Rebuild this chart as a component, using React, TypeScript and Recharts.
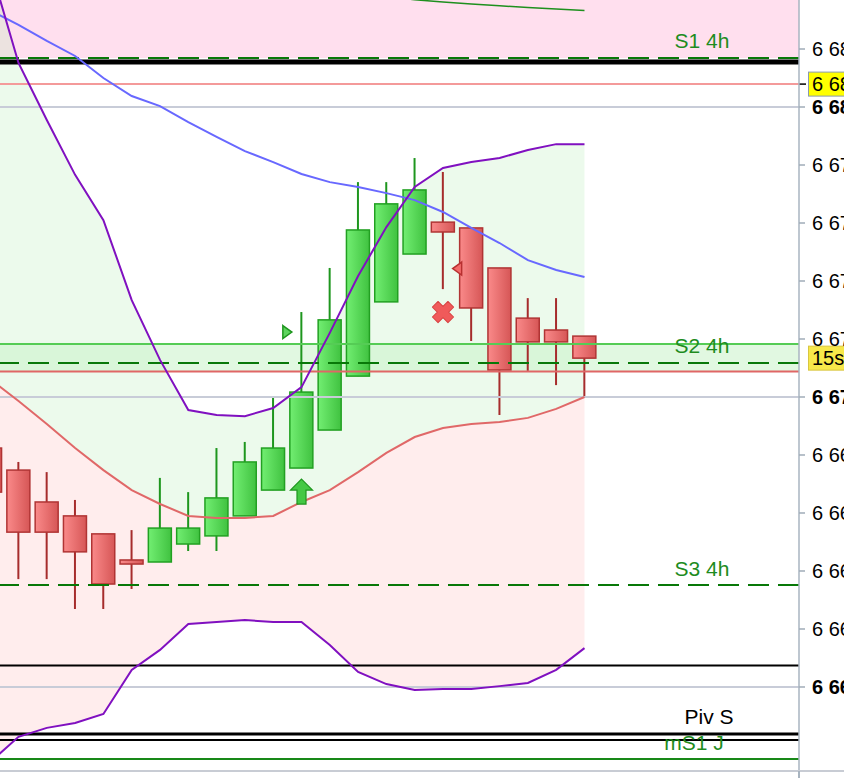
import React from 'react';
import {
  ComposedChart,
  Bar,
  Line,
  Area,
  XAxis,
  YAxis,
  ReferenceLine,
  ReferenceArea,
  ReferenceDot,
} from 'recharts';

// candle index (-1 = partly hidden candle at the left edge)
const candleIdx = [-1, 0, 1, 2, 3, 4, 5, 6, 7, 8, 9, 10, 11, 12, 13, 14, 15, 16, 17, 18, 19, 20];
const opens = [6668.24, 6667.48, 6666.38, 6665.9, 6665.28, 6664.38, 6664.31, 6664.93, 6665.21, 6665.9, 6666.79, 6667.55, 6668.86, 6670.72, 6673.28, 6674.93, 6676.03, 6675.83, 6674.45, 6672.72, 6672.31, 6672.1];
const highs = [6668.6, 6667.76, 6667.41, 6666.45, 6665.28, 6665.41, 6667.21, 6666.72, 6668.24, 6668.45, 6669.97, 6672.93, 6674.45, 6677.41, 6677.41, 6678.24, 6677.76, 6675.83, 6674.45, 6673.41, 6673.41, 6672.1];
const lows = [6665.9, 6663.72, 6663.72, 6662.69, 6662.69, 6663.38, 6664.31, 6664.69, 6664.69, 6665.9, 6666.79, 6667.55, 6668.86, 6670.72, 6673.28, 6674.93, 6673.72, 6671.93, 6669.38, 6670.9, 6670.41, 6670.0];
const closes = [6666.72, 6665.34, 6665.34, 6664.66, 6663.55, 6664.24, 6665.48, 6665.48, 6666.52, 6667.76, 6668.24, 6670.17, 6672.66, 6675.76, 6676.66, 6677.14, 6675.69, 6673.07, 6670.93, 6671.9, 6671.9, 6671.34];

// indicator lines
const upperBand = [6684.86, 6681.52, 6679.55, 6677.66, 6676.1, 6673.34, 6671.28, 6669.55, 6669.38, 6669.34, 6669.62, 6670.34, 6672.21, 6674.17, 6675.86, 6677.24, 6677.9, 6678.1, 6678.24, 6678.52, 6678.72, 6678.72];
const lowerBand = [6657.41, 6658.28, 6658.59, 6658.76, 6659.07, 6660.59, 6661.28, 6662.17, 6662.24, 6662.31, 6662.24, 6662.24, 6661.45, 6660.52, 6660.1, 6659.9, 6659.93, 6659.93, 6660.03, 6660.14, 6660.59, 6661.34];
const midBand = [6670.62, 6669.86, 6669.07, 6668.24, 6667.48, 6666.79, 6666.31, 6665.9, 6665.83, 6665.83, 6665.9, 6666.38, 6666.79, 6667.41, 6668.07, 6668.62, 6668.93, 6669.07, 6669.14, 6669.28, 6669.59, 6670.0];
const blueMa = [6683.34, 6682.83, 6682.28, 6681.76, 6681.0, 6680.38, 6680.03, 6679.48, 6678.97, 6678.48, 6678.1, 6677.69, 6677.41, 6677.24, 6677.03, 6676.79, 6676.38, 6675.83, 6675.31, 6674.72, 6674.38, 6674.14];
const topTrend = [null, null, null, null, null, null, null, null, null, null, null, null, null, null, 6683.8, 6683.7, 6683.62, 6683.55, 6683.49, 6683.43, 6683.38, 6683.33];

// levels
const S1_4H = 6681.69;
const BLACK_UPPER = 6681.55;
const SALMON_LEVEL = 6680.79;
const S2_TOP = 6671.83;
const S2_4H = 6671.17;
const S2_BOTTOM = 6670.88;
const S3_4H = 6663.52;
const BLACK_LOWER = 6660.74;
const PIV_S = 6658.38;
const PIV_S_2 = 6658.17;
const MS1_J = 6657.52;

// signals
const signals = [
  { idx: 9.5, price: 6672.24, kind: 'buyTri' },
  { idx: 10, price: 6667.17, kind: 'buyArrow' },
  { idx: 15, price: 6672.93, kind: 'sellX' },
  { idx: 15.5, price: 6674.43, kind: 'sellTri' },
];

const yTicks = [6660, 6662, 6664, 6666, 6668, 6670, 6672, 6674, 6676, 6678, 6680, 6682];
const majorTicks = [6660, 6670, 6680];
const yDomain = [6657.103, 6683.69];
const xDomain = [-0.654, 27.58];

const FONT = '"Liberation Sans", Arial, Helvetica, sans-serif';

const rows = candleIdx.map((idx, i) => ({
  idx,
  open: opens[i],
  high: highs[i],
  low: lows[i],
  close: closes[i],
  range: [lows[i], highs[i]],
  upper: upperBand[i],
  lower: lowerBand[i],
  mid: midBand[i],
  ma: blueMa[i],
  top: topTrend[i],
  greenBand: [midBand[i], upperBand[i]],
  pinkBand: [lowerBand[i], midBand[i]],
}));

const fmt = (v: number) => `${Math.floor(v / 1000)} ${String(v % 1000).padStart(3, '0')}`;

function Candle(props: any) {
  const { x, y, width, height, payload } = props;
  if (payload == null || !height) return null;
  const { open, close, high, low } = payload;
  const k = height / (high - low);
  const cx = x + width / 2;
  const up = close >= open;
  const bodyTop = y + (high - Math.max(open, close)) * k;
  const bodyBot = y + (high - Math.min(open, close)) * k;
  const wick = up ? '#1e961e' : '#a62c2c';
  return (
    <g>
      <line x1={cx} x2={cx} y1={y} y2={y + height} stroke={wick} strokeWidth={2} />
      <rect
        x={cx - 11.5}
        y={bodyTop}
        width={23}
        height={Math.max(bodyBot - bodyTop, 2)}
        fill={up ? 'url(#gUp)' : 'url(#gDown)'}
        stroke={up ? '#22a022' : '#b03434'}
        strokeWidth={1.5}
      />
    </g>
  );
}

function YTick(props: any) {
  const { x, y, payload } = props;
  const v = payload.value;
  return (
    <text x={x} y={y} dy={7} fontSize={20} fontFamily={FONT} fill="#000" textAnchor="start" fontWeight={majorTicks.includes(v) ? 'bold' : 'normal'}>
      {fmt(v)}
    </text>
  );
}

const levelLabel = (text: string, color: string, cx: number, dy: number) => (p: any) => {
  const vb = p.viewBox || {};
  return (
    <text x={(vb.x || 0) + cx} y={(vb.y || 0) + dy} textAnchor="middle" fill={color} fontSize={21} fontFamily={FONT}>
      {text}
    </text>
  );
};

const priceBox = (text: string, fill: string, border: string, tick: boolean) => (p: any) => {
  const vb = p.viewBox || {};
  const ax = (vb.x || 0) + (vb.width || 0);
  const cy = vb.y || 0;
  return (
    <g>
      {tick && <line x1={ax} x2={ax + 7} y1={cy} y2={cy} stroke="#000" strokeWidth={1.5} />}
      <rect x={ax + 9.5} y={cy - 12} width={60} height={24} fill={fill} stroke={border} strokeWidth={1} />
      <text x={ax + 13} y={cy + 7} fontSize={20} fontFamily={FONT} fill="#000">
        {text}
      </text>
    </g>
  );
};

function SignalShape(kind: string) {
  return (p: any) => {
    const { cx, cy } = p;
    if (kind === 'buyTri') {
      return <path d={`M${cx - 4.5},${cy - 6.5} L${cx + 4.5},${cy} L${cx - 4.5},${cy + 6.5} Z`} fill="#5ed45e" stroke="#1e961e" strokeWidth={1.5} />;
    }
    if (kind === 'sellTri') {
      return <path d={`M${cx + 4.5},${cy - 6.5} L${cx - 4.5},${cy} L${cx + 4.5},${cy + 6.5} Z`} fill="#f26a6a" stroke="#b83030" strokeWidth={1.5} />;
    }
    if (kind === 'buyArrow') {
      return (
        <path
          d={`M${cx},${cy} L${cx + 11},${cy + 11} L${cx + 4.5},${cy + 11} L${cx + 4.5},${cy + 25} L${cx - 4.5},${cy + 25} L${cx - 4.5},${cy + 11} L${cx - 11},${cy + 11} Z`}
          fill="#44c844"
          stroke="#1e961e"
          strokeWidth={1.2}
        />
      );
    }
    return (
      <g transform={`translate(${cx},${cy}) rotate(45)`}>
        <path d="M-4,-11 H4 V-4 H11 V4 H4 V11 H-4 V4 H-11 V-4 H-4 Z" fill="#f05a5a" stroke="#d84444" strokeWidth={1} strokeLinejoin="round" />
      </g>
    );
  };
}

export default function App() {
  const lastClose = closes[closes.length - 1];
  return (
    <div style={{ position: 'fixed', left: 0, top: 0, width: 844, height: 778, overflow: 'hidden', background: '#fff' }}>
      <ComposedChart width={844} height={778} data={rows} margin={{ top: 0, right: 0, bottom: 7, left: 0 }}>
        <defs>
          <linearGradient id="gUp" x1="0" y1="0" x2="1" y2="0">
            <stop offset="0%" stopColor="#72ee72" />
            <stop offset="100%" stopColor="#40c240" />
          </linearGradient>
          <linearGradient id="gDown" x1="0" y1="0" x2="1" y2="0">
            <stop offset="0%" stopColor="#fa8a8a" />
            <stop offset="100%" stopColor="#d65656" />
          </linearGradient>
        </defs>
        <XAxis type="number" dataKey="idx" domain={xDomain} allowDataOverflow hide />
        <YAxis
          orientation="right"
          type="number"
          width={45}
          domain={yDomain}
          allowDataOverflow
          ticks={yTicks}
          interval={0}
          tick={<YTick />}
          tickSize={6}
          tickMargin={7}
          tickLine={{ stroke: '#a0acb8', strokeWidth: 1.5 }}
          axisLine={{ stroke: '#a8b4c0', strokeWidth: 1.5 }}
        />

        <ReferenceArea y1={S1_4H} y2={yDomain[1]} fill="#ffdfee" fillOpacity={1} stroke="none" zIndex={-40} />
        <Area dataKey="greenBand" type="linear" fill="#c0f0c0" fillOpacity={0.3} stroke="none" isAnimationActive={false} activeDot={false} zIndex={-30} />
        <Area dataKey="pinkBand" type="linear" fill="#ffe4e4" fillOpacity={0.65} stroke="none" isAnimationActive={false} activeDot={false} zIndex={-30} />
        <ReferenceArea y1={S2_BOTTOM} y2={S2_TOP} fill="#cdf3cd" fillOpacity={0.6} stroke="none" zIndex={-20} />

        <Bar dataKey="range" barSize={24} shape={<Candle />} isAnimationActive={false} zIndex={300} />

        {majorTicks.map((t) => (
          <ReferenceLine key={t} y={t} stroke="#c8ccd8" strokeWidth={2} zIndex={350} />
        ))}
        <ReferenceLine y={S1_4H} stroke="#087808" strokeWidth={2} strokeDasharray="21 9" label={levelLabel('S1 4h', '#1e8c1e', 702, -10)} zIndex={350} />
        <ReferenceLine y={BLACK_UPPER} stroke="#000" strokeWidth={5} zIndex={350} />
        <ReferenceLine y={SALMON_LEVEL} stroke="#f49a9a" strokeWidth={2} label={priceBox('6 680.8', '#ffff00', '#8a9ab0', true)} zIndex={350} />
        <ReferenceLine y={S2_TOP} stroke="#55cc55" strokeWidth={2} zIndex={350} />
        <ReferenceLine y={S2_4H} stroke="#087808" strokeWidth={2} strokeDasharray="21 9" label={levelLabel('S2 4h', '#1e8c1e', 702, -10)} zIndex={350} />
        <ReferenceLine y={S2_BOTTOM} stroke="#e06666" strokeWidth={2} zIndex={350} />
        <ReferenceLine y={S3_4H} stroke="#087808" strokeWidth={2} strokeDasharray="21 9" label={levelLabel('S3 4h', '#1e8c1e', 702, -9)} zIndex={350} />
        <ReferenceLine y={BLACK_LOWER} stroke="#000" strokeWidth={2} zIndex={350} />
        <ReferenceLine y={PIV_S} stroke="#000" strokeWidth={3} label={levelLabel('Piv S', '#000', 709, -10)} zIndex={350} />
        <ReferenceLine y={PIV_S_2} stroke="#000" strokeWidth={2} zIndex={350} />
        <ReferenceLine y={MS1_J} stroke="#188818" strokeWidth={2} label={levelLabel('mS1 J', '#1e8c1e', 694, -9)} zIndex={350} />

        <Line dataKey="mid" type="linear" stroke="#e06868" strokeWidth={2} dot={false} activeDot={false} isAnimationActive={false} zIndex={400} />
        <Line dataKey="ma" type="linear" stroke="#6868ff" strokeWidth={2} dot={false} activeDot={false} isAnimationActive={false} zIndex={400} />
        <Line dataKey="upper" type="linear" stroke="#8010c0" strokeWidth={2} dot={false} activeDot={false} isAnimationActive={false} zIndex={400} />
        <Line dataKey="lower" type="linear" stroke="#8010c0" strokeWidth={2} dot={false} activeDot={false} isAnimationActive={false} zIndex={400} />
        <Line dataKey="top" type="linear" stroke="#1e901e" strokeWidth={1.5} dot={false} activeDot={false} isAnimationActive={false} zIndex={400} />

        <ReferenceLine y={lastClose} stroke="none" label={priceBox('15s', '#f7e84a', '#d8c640', false)} zIndex={600} />
        {signals.map((s, i) => (
          <ReferenceDot key={i} x={s.idx} y={s.price} r={10} shape={SignalShape(s.kind)} zIndex={650} />
        ))}
      </ComposedChart>
      <div style={{ position: 'absolute', left: 0, top: 770, width: 844, height: 2, background: '#c8ccd4' }} />
      <div style={{ position: 'absolute', left: 798, top: 771, width: 1.5, height: 7, background: '#a8b4c0' }} />
    </div>
  );
}
